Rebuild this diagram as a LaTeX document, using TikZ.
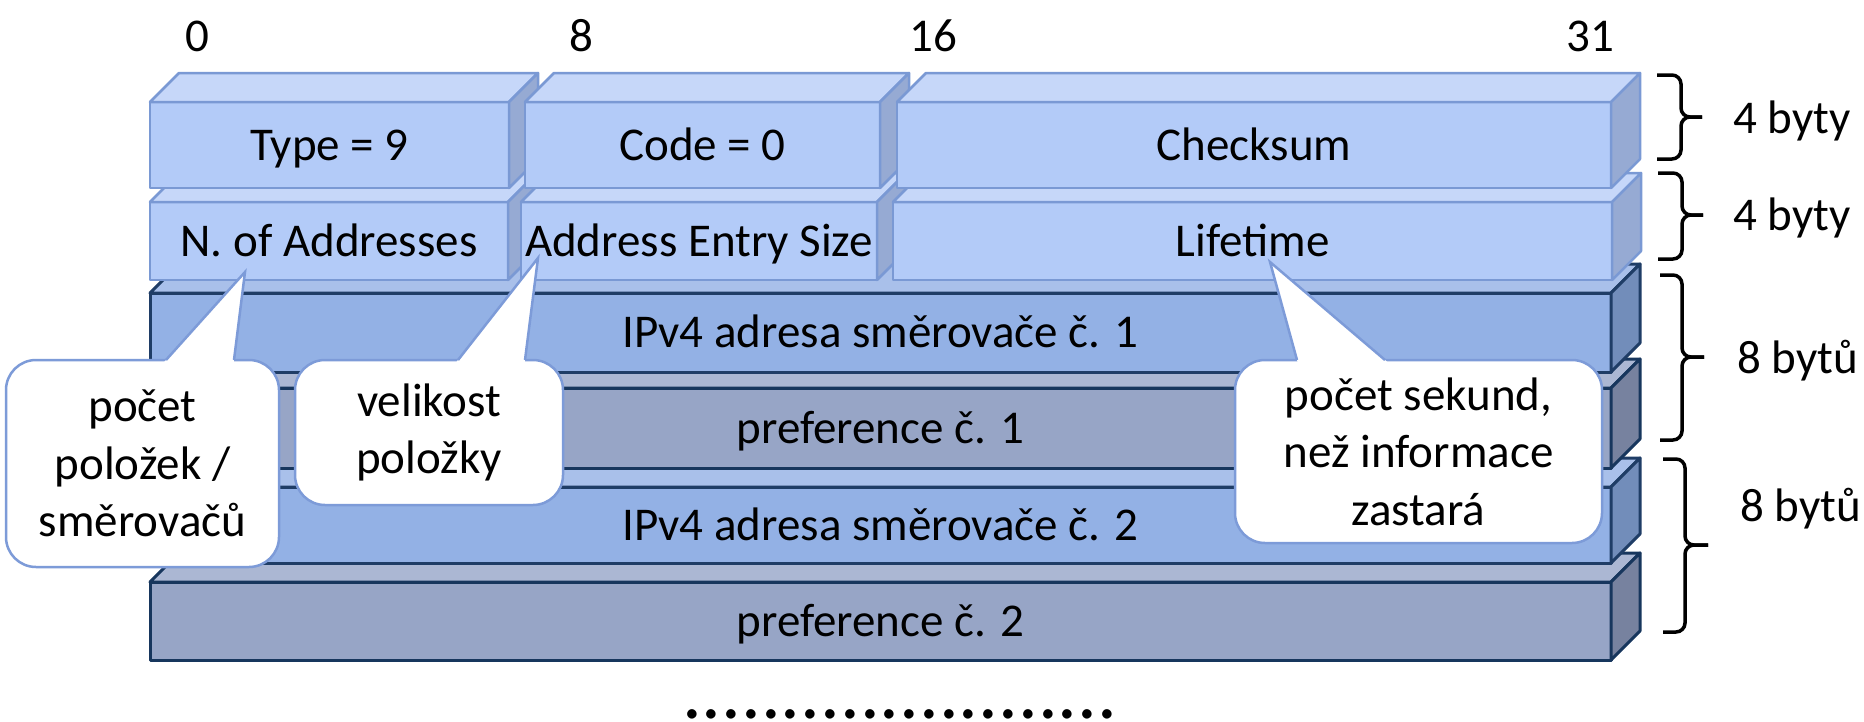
\documentclass[tikz,border=0pt]{standalone}
\usepackage{fontspec}
\setmainfont{Carlito}
\usetikzlibrary{calc}
\definecolor{lfront}{HTML}{B3CBF8}
\definecolor{ltop}{HTML}{C6D7F9}
\definecolor{lside}{HTML}{96AAD3}
\definecolor{lborder}{HTML}{7A99D4}
\definecolor{ipfront}{HTML}{93B1E5}
\definecolor{iptop}{HTML}{A9C0EA}
\definecolor{ipside}{HTML}{728DBA}
\definecolor{ipborder}{HTML}{1F3D66}
\definecolor{pffront}{HTML}{97A5C6}
\definecolor{pftop}{HTML}{ABB7D3}
\definecolor{pfside}{HTML}{77829F}
\definecolor{pfborder}{HTML}{17365D}
\definecolor{cborder}{HTML}{7D9BD8}
\newcommand{\dep}{29}
\newcommand{\fieldbox}[7]{%
  \node[#2front, minimum width=#5pt, minimum height=#6pt] (#1) at (#3,#4) {#7};
  \filldraw[#2face, fill=#2top] (#1.north west) -- ++(\dep,-\dep) -- ([shift={(\dep,-\dep)}]#1.north east) -- (#1.north east) -- cycle;
  \filldraw[#2face, fill=#2side] (#1.north east) -- ++(\dep,-\dep) -- ([shift={(\dep,-\dep)}]#1.south east) -- (#1.south east) -- cycle;
}
\tikzset{
  txt/.style={font=\fontsize{47}{57.5}\selectfont},
  fbase/.style={txt, inner sep=0pt, outer sep=0pt, text height=30pt, text depth=0pt, line join=round},
  lfront/.style={fbase, draw=lborder, fill=lfront, line width=2.5pt},
  lface/.style={draw=lborder, line width=2.5pt, line join=round},
  ipfront/.style={fbase, draw=ipborder, fill=ipfront, line width=3pt},
  ipface/.style={draw=ipborder, line width=3pt, line join=round},
  pffront/.style={fbase, draw=pfborder, fill=pffront, line width=3pt},
  pfface/.style={draw=pfborder, line width=3pt, line join=round},
  callout/.style={txt, draw=cborder, fill=white, line width=2.5pt, rounded corners=30pt, align=center, inner sep=0pt, outer sep=0pt},
  pointer/.style={draw=cborder, line width=2.5pt, line join=miter},
  brace/.style={draw=black, line width=3.5pt, rounded corners=9pt},
  lbl/.style={txt, inner sep=0pt, anchor=base west},
  bit/.style={txt, inner sep=0pt, anchor=base},
}
\begin{document}
\begin{tikzpicture}[x=1pt,y=-1pt]
\useasboundingbox[fill=white] (0,0) rectangle (1864,721);
% rows drawn from bottom to top
\fieldbox{pref2}{pf}{880.5}{621}{1461}{78}{preference č. 2}
\fieldbox{ip2}{ip}{880.5}{525}{1461}{76}{IPv4 adresa směrovače č. 2}
\fieldbox{pref1}{pf}{880.5}{428}{1461}{80}{preference č. 1}
\fieldbox{ip1}{ip}{880.5}{332.5}{1461}{79}{IPv4 adresa směrovače č. 1}
% row 2
\fieldbox{naddr}{l}{329}{241}{358}{78}{N. of Addresses}
\fieldbox{aes}{l}{699}{241}{356}{78}{Address Entry Size}
\fieldbox{life}{l}{1252.5}{241}{719}{78}{Lifetime}
% row 1
\fieldbox{type}{l}{329.5}{145}{359}{86}{Type = 9}
\fieldbox{code}{l}{702.5}{145}{355}{86}{Code = 0}
\fieldbox{cksum}{l}{1254}{145}{714}{86}{Checksum}
% bit numbers
\node[bit] (b0) at (197,51) {0};
\node[bit] (b8) at (581,51) {8};
\node[bit] (b16) at (933,51) {16};
\node[bit] (b31) at (1590,51) {31};
% braces
\draw[brace] (1657,75) -- (1681,75) -- (1681,117) -- (1702,117);
\draw[brace] (1657,159) -- (1681,159) -- (1681,117) -- (1702,117);
\draw[brace] (1658,173) -- (1682,173) -- (1682,215) -- (1703,215);
\draw[brace] (1658,259) -- (1682,259) -- (1682,215) -- (1703,215);
\draw[brace] (1660,275) -- (1682,275) -- (1682,357) -- (1704,357);
\draw[brace] (1660,440) -- (1682,440) -- (1682,357) -- (1704,357);
\draw[brace] (1663,459) -- (1685,459) -- (1685,545) -- (1708,545);
\draw[brace] (1663,632) -- (1685,632) -- (1685,545) -- (1708,545);
\node[lbl] (s1) at (1733,133) {4 byty};
\node[lbl] (s2) at (1733,230) {4 byty};
\node[lbl] (s3) at (1737,373) {8 bytů};
\node[lbl] (s4) at (1740,521) {8 bytů};
% callouts
\node[callout, minimum width=273pt, minimum height=207pt] (c1) at (142.5,463.5) {počet\\položek /\\směrovačů};
\coordinate (t1) at (245,272);
\coordinate (c1a) at (166,360);
\coordinate (c1b) at (234,360);
\fill[white] ($(t1)!1.04!(c1a)$) -- (t1) -- ($(t1)!1.04!(c1b)$) -- cycle;
\draw[pointer] (c1a) -- (t1) -- (c1b);
\node[callout, minimum width=268pt, minimum height=145pt] (c2) at (429,432.5) {velikost\\položky};
\coordinate (t2) at (538,258);
\coordinate (c2a) at (458,360);
\coordinate (c2b) at (525,360);
\fill[white] ($(t2)!1.04!(c2a)$) -- (t2) -- ($(t2)!1.04!(c2b)$) -- cycle;
\draw[pointer] (c2a) -- (t2) -- (c2b);
\node[callout, minimum width=367pt, minimum height=183pt] (c3) at (1418.5,451.5) {počet sekund,\\než informace\\zastará};
\coordinate (t3) at (1270,262);
\coordinate (c3a) at (1297,360);
\coordinate (c3b) at (1385,360);
\fill[white] ($(t3)!1.04!(c3a)$) -- (t3) -- ($(t3)!1.04!(c3b)$) -- cycle;
\draw[pointer] (c3a) -- (t3) -- (c3b);
% continuation dots
\node[inner sep=0pt, anchor=base, font=\fontsize{78.5}{80}\selectfont] (dots) at (900,718) {......................};
\end{tikzpicture}
\end{document}
